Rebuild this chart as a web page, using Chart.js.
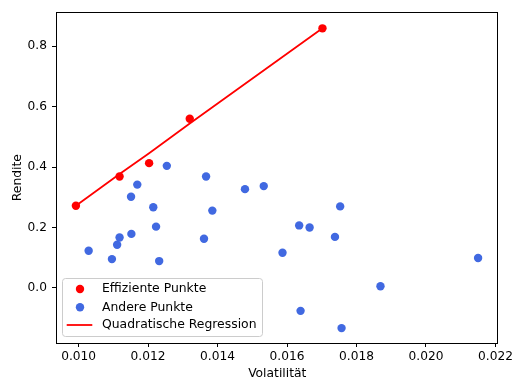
<!DOCTYPE html>
<html><head><meta charset="utf-8">
<script src="https://cdn.jsdelivr.net/npm/chart.js@4/dist/chart.umd.min.js"></script>
<style>html,body{margin:0;padding:0;background:#fff}#wrap{width:516px;height:381px}</style>
</head><body><div id="wrap"><canvas id="c" width="516" height="381"></canvas></div>
<script>
const effX = [0.009923, 0.01118, 0.01203, 0.0132, 0.01702];
const effY = [0.272, 0.369, 0.413, 0.560, 0.859];
const otherX = [0.01254, 0.01367, 0.01479, 0.01169, 0.01151, 0.01533, 0.01029, 0.01096, 0.01111, 0.01118, 0.01152, 0.01215, 0.01223, 0.01232, 0.01361, 0.01385, 0.01753, 0.01635, 0.01665, 0.01738, 0.01587, 0.0215, 0.01869, 0.01639, 0.01757];
const otherY = [0.404, 0.369, 0.327, 0.342, 0.302, 0.337, 0.123, 0.0955, 0.143, 0.167, 0.179, 0.267, 0.203, 0.089, 0.163, 0.256, 0.270, 0.207, 0.200, 0.169, 0.1165, 0.099, 0.0056, -0.0757, -0.1327];
const regX = [0.009923, 0.01118, 0.01203, 0.0132, 0.01702];
const regY = [0.272, 0.377, 0.446, 0.544, 0.859];
const xTicks = [0.010, 0.012, 0.014, 0.016, 0.018, 0.020, 0.022];
const yTicks = [0.0, 0.2, 0.4, 0.6, 0.8];
const seriesNames = ['Effiziente Punkte', 'Andere Punkte', 'Quadratische Regression'];
const xTitle = 'Volatilität';
const yTitle = 'Rendite';

const pts = (xs, ys) => xs.map((x, i) => ({x: x, y: ys[i]}));
const FONT = "'DejaVu Sans', sans-serif";

const framePlugin = {
  id: 'frame',
  afterDraw(chart) {
    const ctx = chart.ctx, a = chart.chartArea;
    ctx.save();
    ctx.strokeStyle = '#000';
    ctx.lineWidth = 1;
    ctx.strokeRect(Math.round(a.left) + 0.5, Math.round(a.top) + 0.5, Math.round(a.right - a.left) - 1, Math.round(a.bottom - a.top));
    // legend
    const lx = a.left + 6.5, ly = a.bottom - 64.5, lw = 200, lh = 58, r = 3;
    ctx.beginPath();
    ctx.moveTo(lx + r, ly);
    ctx.arcTo(lx + lw, ly, lx + lw, ly + lh, r);
    ctx.arcTo(lx + lw, ly + lh, lx, ly + lh, r);
    ctx.arcTo(lx, ly + lh, lx, ly, r);
    ctx.arcTo(lx, ly, lx + lw, ly, r);
    ctx.closePath();
    ctx.fillStyle = 'rgba(255,255,255,0.8)';
    ctx.fill();
    ctx.strokeStyle = '#cccccc';
    ctx.stroke();
    const rowY = [ly + 10.5, ly + 28.8, ly + 46.5];
    const mx = a.left + 24, tx = a.left + 46;
    ctx.fillStyle = 'red';
    ctx.beginPath(); ctx.arc(mx, rowY[0], 4.2, 0, Math.PI * 2); ctx.fill();
    ctx.fillStyle = 'royalblue';
    ctx.beginPath(); ctx.arc(mx, rowY[1], 4.2, 0, Math.PI * 2); ctx.fill();
    ctx.strokeStyle = 'red'; ctx.lineWidth = 1.8;
    ctx.beginPath(); ctx.moveTo(a.left + 10.7, rowY[2]); ctx.lineTo(a.left + 36.3, rowY[2]); ctx.stroke();
    ctx.fillStyle = '#000';
    ctx.font = '12.4px ' + FONT;
    ctx.textBaseline = 'middle';
    ctx.textAlign = 'left';
    seriesNames.forEach((n, i) => ctx.fillText(n, tx, rowY[i]));
    ctx.restore();
  }
};

new Chart(document.getElementById('c'), {
  type: 'scatter',
  data: {
    datasets: [
      {label: seriesNames[2], type: 'line', data: pts(regX, regY), borderColor: 'red', borderWidth: 1.8, pointRadius: 0, fill: false, tension: 0, order: 3},
      {label: seriesNames[0], data: pts(effX, effY), backgroundColor: 'red', borderColor: 'red', pointRadius: 4.2, borderWidth: 0, order: 2},
      {label: seriesNames[1], data: pts(otherX, otherY), backgroundColor: 'royalblue', borderColor: 'royalblue', pointRadius: 4.2, borderWidth: 0, order: 1}
    ]
  },
  options: {
    responsive: false,
    animation: false,
    devicePixelRatio: 1,
    layout: {padding: {left: 0, top: 10, right: 14, bottom: 0}},
    plugins: {legend: {display: false}, tooltip: {enabled: false}},
    scales: {
      x: {
        type: 'linear', min: 0.00935, max: 0.022086,
        afterFit(s) { s.height = 38; },
        afterBuildTicks(s) { s.ticks = xTicks.map(v => ({value: v})); },
        grid: {display: true, drawOnChartArea: false, drawTicks: true, tickLength: 4, color: '#000', lineWidth: 1},
        border: {display: false},
        ticks: {padding: 3, color: '#000', font: {family: FONT, size: 12.2}, maxRotation: 0, autoSkip: false, callback: v => Number(v).toFixed(3)},
        title: {display: true, text: xTitle, color: '#000', font: {family: FONT, size: 12.3}, padding: {top: 0, bottom: 0}}
      },
      y: {
        type: 'linear', min: -0.182, max: 0.912,
        afterFit(s) { s.width = 56; },
        afterBuildTicks(s) { s.ticks = yTicks.map(v => ({value: v})); },
        grid: {display: true, drawOnChartArea: false, drawTicks: true, tickLength: 4, color: '#000', lineWidth: 1},
        border: {display: false},
        ticks: {padding: 5, color: '#000', font: {family: FONT, size: 12.2}, autoSkip: false, callback: v => Number(v).toFixed(1)},
        title: {display: true, text: yTitle, color: '#000', font: {family: FONT, size: 12.3}, padding: {top: 10, bottom: 0}}
      }
    }
  },
  plugins: [framePlugin]
});
</script></body></html>
